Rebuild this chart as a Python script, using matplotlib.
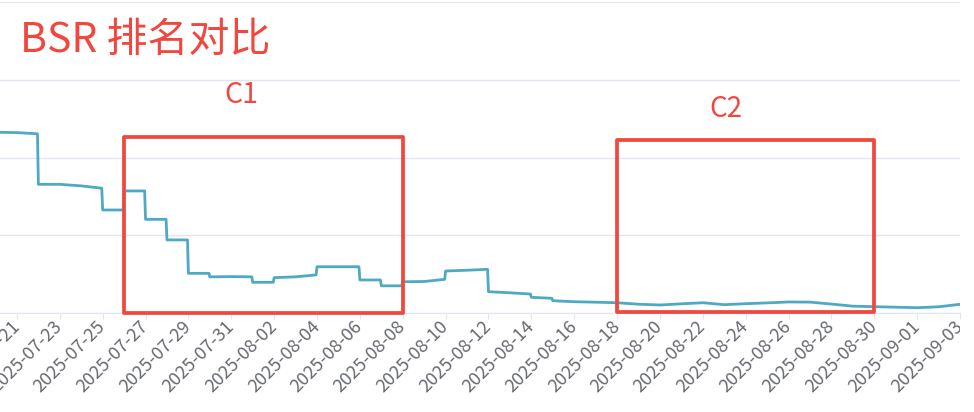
import matplotlib
matplotlib.use("Agg")
import matplotlib.pyplot as plt
import matplotlib.dates as mdates
from matplotlib.patches import Rectangle
from matplotlib.transforms import Bbox, TransformedBbox
import pandas as pd

plt.rcParams['font.family'] = ['Noto Sans CJK SC', 'DejaVu Sans']

# BSR 排名数据 (从图上估读, 整点为当天, 23:00 为前一天结束)
times = [
    "2025-07-20 00:00", "2025-07-21 00:00", "2025-07-21 23:00",
    "2025-07-22 00:00", "2025-07-23 00:00", "2025-07-24 00:00", "2025-07-24 23:00",
    "2025-07-25 00:00", "2025-07-25 23:00",
    "2025-07-26 00:00", "2025-07-26 23:00",
    "2025-07-27 00:00", "2025-07-27 23:00",
    "2025-07-28 00:00", "2025-07-28 23:00",
    "2025-07-29 00:00", "2025-07-29 23:00",
    "2025-07-30 00:00", "2025-07-31 00:00", "2025-07-31 23:00",
    "2025-08-01 00:00", "2025-08-01 23:00",
    "2025-08-02 00:00", "2025-08-03 00:00", "2025-08-03 23:00",
    "2025-08-04 00:00", "2025-08-05 00:00", "2025-08-05 23:00",
    "2025-08-06 00:00", "2025-08-06 23:00",
    "2025-08-07 00:00", "2025-08-07 23:00",
    "2025-08-08 00:00", "2025-08-09 00:00", "2025-08-09 23:00",
    "2025-08-10 00:00", "2025-08-11 00:00", "2025-08-11 23:00",
    "2025-08-12 00:00", "2025-08-13 00:00", "2025-08-13 23:00",
    "2025-08-14 00:00", "2025-08-14 23:00",
    "2025-08-15 00:00", "2025-08-16 00:00", "2025-08-17 00:00", "2025-08-18 00:00",
    "2025-08-19 00:00", "2025-08-20 00:00", "2025-08-21 00:00", "2025-08-22 00:00",
    "2025-08-23 00:00", "2025-08-24 00:00", "2025-08-25 00:00", "2025-08-26 00:00",
    "2025-08-27 00:00", "2025-08-28 00:00", "2025-08-29 00:00", "2025-08-30 00:00",
    "2025-08-31 00:00", "2025-09-01 00:00", "2025-09-02 00:00", "2025-09-03 00:00",
]
bsr = [
    23250, 23200, 23050,
    16550, 16550, 16350, 16050,
    13250, 13250,
    15700, 15700,
    12050, 12050,
    9400, 9400,
    5100, 5100,
    4650, 4680, 4650,
    3950, 3950,
    4550, 4650, 4900,
    5950, 5950, 5950,
    4250, 4250,
    3500, 3500,
    4020, 4050, 4330,
    5400, 5500, 5620,
    2740, 2600, 2440,
    2020, 1890,
    1580, 1450, 1390, 1320,
    1130, 1030, 1180, 1320,
    1070, 1200, 1300, 1420,
    1400, 1150, 880, 810,
    750, 680, 800, 1120,
]

# 对比区间
boxes = [
    ("C1", "2025-07-26", "2025-08-08", 0, 22600),
    ("C2", "2025-08-18", "2025-08-30", 100, 22250),
]

tick_dates = pd.date_range("2025-07-21", "2025-09-03", freq="2D")

line_color = "#4fa9c2"
red = "#f0483e"
grid_color = "#e0e6f1"

fig = plt.figure(figsize=(9.74, 4.12), dpi=100)
ax = fig.add_axes([0, 99 / 412, 960 / 974, 311 / 412])

t = pd.to_datetime(times)
ax.plot(t, bsr, color=line_color, lw=2.0, solid_joinstyle="round")

ax.set_xlim(pd.Timestamp("2025-07-21") - pd.Timedelta(days=0.79),
            pd.Timestamp("2025-09-03"))
ax.set_ylim(0, 40000)
ax.set_yticks([0, 10000, 20000, 30000, 40000])
ax.yaxis.grid(True, color=grid_color, lw=1)
ax.tick_params(axis="y", left=False, labelleft=False)
for s in ["top", "left", "right"]:
    ax.spines[s].set_visible(False)
ax.spines["bottom"].set_color(grid_color)
ax.set_axisbelow(True)

ax.set_xticks(tick_dates)
ax.xaxis.set_major_formatter(mdates.DateFormatter("%Y-%m-%d"))
ax.tick_params(axis="x", length=4, width=0.8, color=grid_color, pad=3.5,
               labelsize=13, labelcolor="#686a72")

clip = TransformedBbox(Bbox.from_extents(0, 0, 960 / 974, 1), fig.transFigure)
for lab in ax.get_xticklabels():
    lab.set_rotation(45)
    lab.set_ha("right")
    lab.set_va("center")
    lab.set_rotation_mode("anchor")
    lab.set_clip_box(clip)
    lab.set_clip_on(True)

for name, x0, x1, y0, y1 in boxes:
    x0, x1 = pd.Timestamp(x0), pd.Timestamp(x1)
    ax.add_patch(Rectangle((mdates.date2num(x0), y0),
                           mdates.date2num(x1) - mdates.date2num(x0), y1 - y0,
                           fill=False, ec=red, lw=2.7, joinstyle="round",
                           clip_on=False, zorder=5))

fig.text(241 / 974, 1 - 103 / 412, "C1", color=red, fontsize=20.5,
         ha="center", va="baseline")
fig.text(726 / 974, 1 - 117 / 412, "C2", color=red, fontsize=20,
         ha="center", va="baseline")
fig.text(20 / 974, 1 - 52 / 412, "BSR 排名对比", color=red, fontsize=29.5,
         ha="left", va="baseline")

fig.savefig("out.png", dpi=100)
